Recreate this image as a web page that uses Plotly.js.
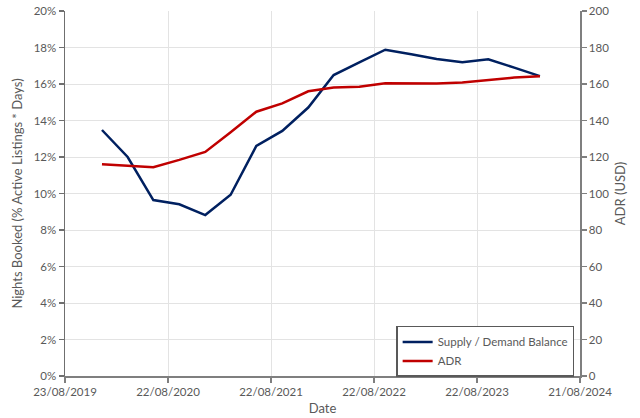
<!DOCTYPE html>
<html>
<head>
<meta charset="utf-8">
<script src="https://cdn.plot.ly/plotly-3.0.1.min.js"></script>
<style>html,body{margin:0;padding:0;background:#fff;}#chart{width:640px;height:418px;}</style>
</head>
<body>
<div id="chart"></div>
<script>
const dates = ["2020-01-01","2020-04-01","2020-07-01","2020-10-01","2021-01-01","2021-04-01","2021-07-01","2021-10-01","2022-01-01","2022-04-01","2022-07-01","2022-10-01","2023-01-01","2023-04-01","2023-07-01","2023-10-01","2024-01-01","2024-04-01"];
const supplyDemand = [0.1348,0.1200,0.0964,0.0941,0.0882,0.0993,0.1261,0.1343,0.1471,0.1649,0.1718,0.1788,0.1763,0.1737,0.1719,0.1735,0.1690,0.1643];
const adr = [116.0,115.2,114.4,118.4,122.8,133.5,144.8,149.4,156.0,158.1,158.5,160.4,160.3,160.3,160.8,162.2,163.5,164.2];
const xTickVals = ["2019-08-23","2020-08-22","2021-08-22","2022-08-22","2023-08-22","2024-08-21"];
const xTickText = ["23/08/2019","22/08/2020","22/08/2021","22/08/2022","22/08/2023","21/08/2024"];
const seriesNames = ["Supply / Demand Balance","ADR"];

const tickFont = {family:"Lato, 'Open Sans', sans-serif", size:11.5, color:"#595959"};
const titleFont = {family:"Lato, 'Open Sans', sans-serif", size:13, color:"#595959"};

const traces = [
  {x:dates, y:supplyDemand, name:seriesNames[0], type:"scatter", mode:"lines",
   line:{color:"#002060", width:2.5}, yaxis:"y"},
  {x:dates, y:adr, name:seriesNames[1], type:"scatter", mode:"lines",
   line:{color:"#C00000", width:2.5}, yaxis:"y2"}
];

const layout = {
  width:640, height:418,
  margin:{l:65, r:60, t:11, b:42},
  paper_bgcolor:"#fff", plot_bgcolor:"#fff",
  showlegend:true,
  legend:{x:0.643, y:0.137, xanchor:"left", yanchor:"top",
    bgcolor:"#fff", bordercolor:"#595959", borderwidth:1.5,
    font:{family:"Lato, 'Open Sans', sans-serif", size:11.5, color:"#595959"},
    itemwidth:30, tracegroupgap:0},
  xaxis:{type:"date", range:[xTickVals[0], xTickVals[5]],
    tickmode:"array", tickvals:xTickVals, ticktext:xTickText,
    showgrid:true, gridcolor:"#e3e3e3", gridwidth:1,
    showline:true, linecolor:"#7f7f7f", linewidth:1.5,
    ticks:"outside", ticklen:5, tickcolor:"#7f7f7f", tickwidth:1.5,
    tickfont:tickFont, zeroline:false,
    title:{text:"Date", font:titleFont, standoff:6}},
  yaxis:{range:[0,0.2], dtick:0.02, tickformat:".0%",
    showgrid:true, gridcolor:"#e3e3e3", gridwidth:1,
    showline:true, linecolor:"#6f6f6f", linewidth:1.5,
    ticks:"outside", ticklen:5, tickcolor:"#6f6f6f", tickwidth:1.5,
    tickfont:tickFont, zeroline:false,
    title:{text:"Nights Booked (% Active Listings * Days)", font:titleFont, standoff:8}},
  yaxis2:{range:[0,200], dtick:20, overlaying:"y", side:"right",
    showgrid:false, showline:true, linecolor:"#7f7f7f", linewidth:1.5,
    ticks:"outside", ticklen:5, tickcolor:"#7f7f7f", tickwidth:1.5,
    tickfont:tickFont, zeroline:false,
    title:{text:"ADR (USD)", font:titleFont, standoff:8}}
};

Plotly.newPlot("chart", traces, layout, {displayModeBar:false, staticPlot:true});
</script>
</body>
</html>
